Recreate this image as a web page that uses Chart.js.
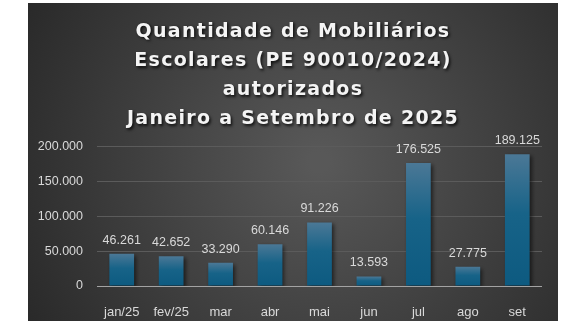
<!DOCTYPE html>
<html lang="pt-BR">
<head>
<meta charset="utf-8">
<title>Mobiliários Escolares 2025</title>
<script src="https://cdn.jsdelivr.net/npm/chart.js@4.4.1/dist/chart.umd.min.js"></script>
<style>
    html, body {
        margin: 0;
        padding: 0;
        background: #ffffff;
    }
    #chartBox {
        position: absolute;
        left: 28px;
        top: 3px;
        width: 530px;
        height: 318px;
    }
</style>
</head>
<body>
<div id="chartBox">
    <canvas id="mobiliarioChart" width="530" height="318"></canvas>
</div>
<script>
// ========================================
// データ
// ========================================

const titleLines = [
    'Quantidade de Mobiliários',
    'Escolares (PE 90010/2024)',
    'autorizados',
    'Janeiro a Setembro de 2025'
];

const months = ['jan/25', 'fev/25', 'mar', 'abr', 'mai', 'jun', 'jul', 'ago', 'set'];

const quantities = [46261, 42652, 33290, 60146, 91226, 13593, 176525, 27775, 189125];

const yTicks = [0, 50000, 100000, 150000, 200000];

// ========================================
// ヘルパー
// ========================================

/**
 * 千区切りをドットで表示 (pt-BR)
 */
function formatNumber(value) {
    return Math.round(value).toString().replace(/\B(?=(\d{3})+(?!\d))/g, '.');
}

/**
 * 棒ごとのグラデーション（上が明るい）
 */
function barGradient(context) {
    const chart = context.chart;
    const yScale = chart.scales.y;
    if (!chart.chartArea || !yScale || context.parsed === undefined) {
        return '#15628a';
    }
    const top = yScale.getPixelForValue(context.parsed.y);
    const bottom = yScale.getPixelForValue(0);
    const g = chart.ctx.createLinearGradient(0, top, 0, bottom);
    g.addColorStop(0, '#4b7896');
    g.addColorStop(0.45, '#176388');
    g.addColorStop(1, '#0d5a80');
    return g;
}

// ========================================
// プラグイン
// ========================================

// 背景（ラジアルグラデーション）
const backgroundPlugin = {
    id: 'radialBackground',
    beforeDraw(chart) {
        const { ctx, width, height } = chart;
        ctx.save();
        const g = ctx.createRadialGradient(width * 0.55, height * 0.5, 10, width * 0.55, height * 0.5, width * 0.62);
        g.addColorStop(0, '#585858');
        g.addColorStop(1, '#2a2a2a');
        ctx.fillStyle = g;
        ctx.fillRect(0, 0, width, height);
        ctx.restore();

        // タイトルに字間と影を付ける（キャンバス全幅の中央に寄せる）
        const block = chart.titleBlock;
        if (block && !block._styled) {
            const origDraw = block.draw.bind(block);
            block.draw = function(area) {
                const c = chart.ctx;
                c.save();
                c.translate(8, 0);
                c.letterSpacing = '1.3px';
                c.shadowColor = 'rgba(0, 0, 0, 0.8)';
                c.shadowBlur = 3;
                c.shadowOffsetX = 1.5;
                c.shadowOffsetY = 1.5;
                origDraw(area);
                c.restore();
            };
            block._styled = true;
        }
    }
};

// 棒の影と数値ラベル
const barLabelPlugin = {
    id: 'barLabels',
    beforeDatasetsDraw(chart) {
        const ctx = chart.ctx;
        ctx.save();
        ctx.shadowColor = 'rgba(0, 0, 0, 0.55)';
        ctx.shadowBlur = 4;
        ctx.shadowOffsetX = 2;
        ctx.shadowOffsetY = 2;
    },
    afterDatasetsDraw(chart) {
        const ctx = chart.ctx;
        ctx.restore();

        const meta = chart.getDatasetMeta(0);
        ctx.save();
        ctx.font = '12.5px "Liberation Sans", Arial, sans-serif';
        ctx.fillStyle = '#d9d9d9';
        ctx.textAlign = 'center';
        ctx.textBaseline = 'middle';
        meta.data.forEach((bar, i) => {
            ctx.fillText(formatNumber(quantities[i]), bar.x, bar.y - 13.5);
        });
        ctx.restore();
    }
};

// ========================================
// チャート表示
// ========================================

const ctx = document.getElementById('mobiliarioChart').getContext('2d');

const mobiliarioChart = new Chart(ctx, {
    type: 'bar',
    data: {
        labels: months,
        datasets: [{
            label: 'Quantidade',
            data: quantities,
            backgroundColor: barGradient,
            borderWidth: 0,
            barPercentage: 0.5,
            categoryPercentage: 1
        }]
    },
    options: {
        responsive: false,
        animation: false,
        devicePixelRatio: 1,
        layout: {
            padding: { left: 0, right: 16, top: 0, bottom: 0 }
        },
        plugins: {
            legend: { display: false },
            tooltip: { enabled: false },
            title: {
                display: true,
                text: titleLines,
                color: '#f4f4f4',
                font: {
                    family: '"DejaVu Sans", sans-serif',
                    size: 19,
                    weight: 'bold',
                    lineHeight: 1.53
                },
                padding: { top: 14.5, bottom: 13 }
            }
        },
        scales: {
            x: {
                grid: { display: false },
                border: { display: false },
                ticks: {
                    color: '#d9d9d9',
                    padding: 11,
                    font: { family: '"Liberation Sans", Arial, sans-serif', size: 13 }
                },
                afterFit(scale) {
                    scale.height = 35;
                }
            },
            y: {
                min: 0,
                max: 200000,
                afterBuildTicks(scale) {
                    scale.ticks = yTicks.map(v => ({ value: v }));
                },
                grid: {
                    drawTicks: false,
                    lineWidth: 1,
                    color: c => (c.tick && c.tick.value === 0 ? '#a3a3a3' : '#5b5b5b')
                },
                border: { display: false },
                ticks: {
                    color: '#d9d9d9',
                    padding: 14,
                    font: { family: '"Liberation Sans", Arial, sans-serif', size: 12.5 },
                    callback: value => formatNumber(value)
                },
                afterFit(scale) {
                    scale.width = 69;
                }
            }
        }
    },
    plugins: [backgroundPlugin, barLabelPlugin]
});
</script>
</body>
</html>
